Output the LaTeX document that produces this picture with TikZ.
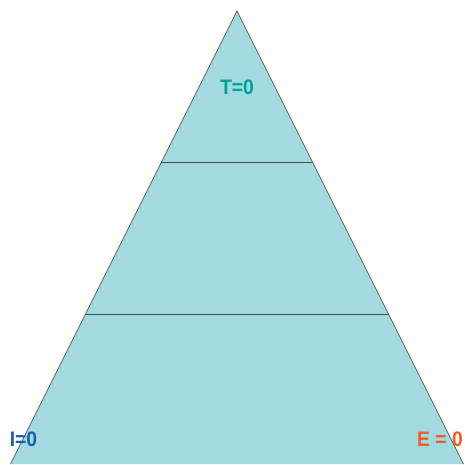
\documentclass[tikz,border=0pt]{standalone}
\usepackage{fontspec}
\setmainfont{Liberation Sans}
\usetikzlibrary{calc}
\definecolor{pyrfill}{HTML}{A2DADF}
\definecolor{tcol}{HTML}{00A19A}
\definecolor{icol}{HTML}{1A5EAD}
\definecolor{ecol}{HTML}{F15A29}
\begin{document}
\begin{tikzpicture}[x=1pt,y=-1pt,
 lbl/.style={font=\fontsize{21}{21}\selectfont\bfseries,xscale=0.92,inner sep=0pt},
 edge/.style={draw=black!80,line width=0.6pt}]
\useasboundingbox (0,0) rectangle (465,464);
\coordinate (top) at (237,11);
\coordinate (bl) at (10.5,464);
\coordinate (br) at (463.5,464);
\fill[pyrfill] (top)--(bl)--(br)--cycle;
\draw[edge] (bl)--(top)--(br);
% the two levels
\coordinate (l1) at ($(top)!0.3355!(bl)$);\coordinate (r1) at ($(top)!0.3355!(br)$);
\coordinate (l2) at ($(top)!0.6689!(bl)$);\coordinate (r2) at ($(top)!0.6689!(br)$);
\draw[edge,line width=1pt,draw=black!70] (l1)--(r1);
\draw[edge,line width=1pt,draw=black!70] (l2)--(r2);
\node[lbl,text=tcol] (t) at (237,87.5) {T=0};
\node[lbl,text=icol] (i) at (23.5,439.5) {I=0};
\node[lbl,text=ecol] (e) at (440,439.5) {E = 0};
\end{tikzpicture}
\end{document}
